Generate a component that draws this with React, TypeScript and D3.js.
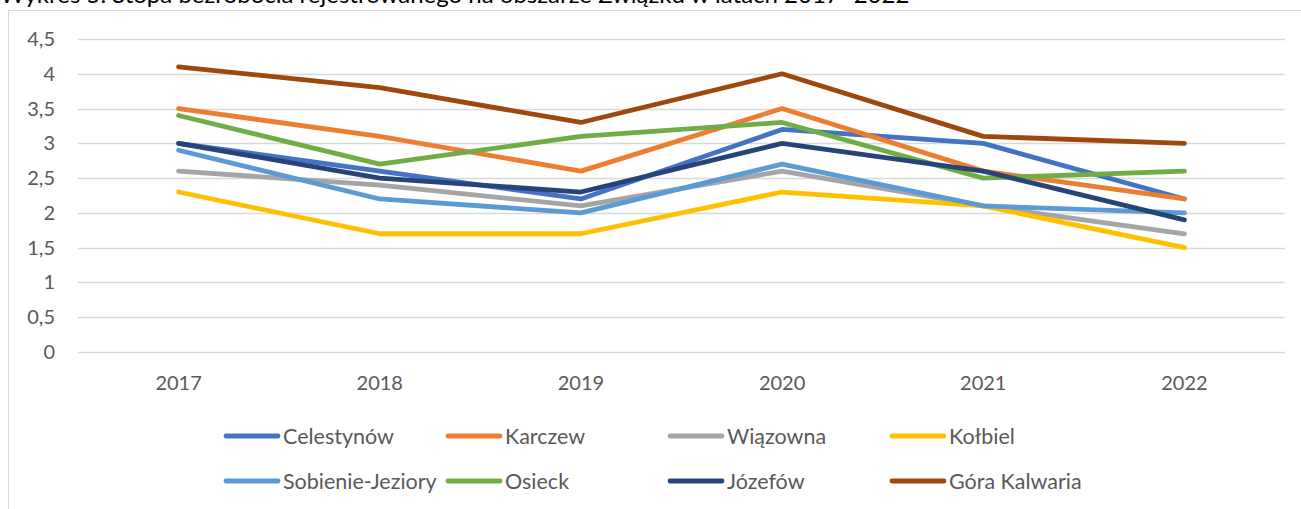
import React from "react";
import * as d3 from "d3";

// Years on the x axis
const years = ["2017", "2018", "2019", "2020", "2021", "2022"];

// Unemployment rate per gmina (%)
const celestynow = [3.0, 2.6, 2.2, 3.2, 3.0, 2.2];
const karczew = [3.5, 3.1, 2.6, 3.5, 2.6, 2.2];
const wiazowna = [2.6, 2.4, 2.1, 2.6, 2.1, 1.7];
const kolbiel = [2.3, 1.7, 1.7, 2.3, 2.1, 1.5];
const sobienie = [2.9, 2.2, 2.0, 2.7, 2.1, 2.0];
const osieck = [3.4, 2.7, 3.1, 3.3, 2.5, 2.6];
const jozefow = [3.0, 2.5, 2.3, 3.0, 2.6, 1.9];
const goraKalwaria = [4.1, 3.8, 3.3, 4.0, 3.1, 3.0];

const seriesNames = [
  "Celestynów",
  "Karczew",
  "Wiązowna",
  "Kołbiel",
  "Sobienie-Jeziory",
  "Osieck",
  "Józefów",
  "Góra Kalwaria",
];
const seriesValues = [celestynow, karczew, wiazowna, kolbiel, sobienie, osieck, jozefow, goraKalwaria];
const colors = ["#4472C4", "#ED7D31", "#A5A5A5", "#FFC000", "#5B9BD5", "#70AD47", "#264478", "#9E480E"];

const yTicks = [0, 0.5, 1, 1.5, 2, 2.5, 3, 3.5, 4, 4.5];

const title = "Wykres 5. Stopa bezrobocia rejestrowanego na obszarze Związku w latach 2017–2022";

export default function App() {
  const width = 1301;
  const height = 509;
  const font = "Lato, 'Noto Sans', sans-serif";

  // plot area
  const left = 78;
  const right = 1285;
  const top = 39;
  const bottom = 352;

  const x = d3.scaleBand<string>().domain(years).range([left, right]);
  const y = d3.scaleLinear().domain([0, 4.5]).range([bottom, top]);

  const line = d3
    .line<number>()
    .x((d, i) => (x(years[i]) ?? 0) + x.bandwidth() / 2)
    .y((d) => y(d));

  const fmt = (v: number) => String(v).replace(".", ",");

  // legend layout: 4 columns, 2 rows
  const legendX = d3.scaleLinear().domain([0, 1]).range([224, 446]);
  const legendY = d3.scaleLinear().domain([0, 1]).range([436, 481]);

  return (
    <div style={{ position: "absolute", left: 0, top: 0 }}>
      <svg width={width} height={height} style={{ display: "block", background: "#fff" }}>
        <text x={0} y={3} fontFamily={font} fontSize={24} fill="#000">
          {title}
        </text>

        {/* chart frame */}
        <path d={`M8.5,${height} V10.5 H${width}`} fill="none" stroke="#D9D9D9" strokeWidth={1} />

        {/* gridlines */}
        {yTicks.map((t) => (
          <line
            key={t}
            x1={left}
            x2={right}
            y1={Math.round(y(t)) + 0.5}
            y2={Math.round(y(t)) + 0.5}
            stroke="#D9D9D9"
            strokeWidth={1.3}
          />
        ))}

        {/* y labels */}
        {yTicks.map((t) => (
          <text
            key={"l" + t}
            x={55}
            y={y(t)}
            dy="0.35em"
            textAnchor="end"
            fontFamily={font}
            fontSize={20}
            fill="#595959"
          >
            {fmt(t)}
          </text>
        ))}

        {/* x labels */}
        {years.map((yr) => (
          <text
            key={yr}
            x={(x(yr) ?? 0) + x.bandwidth() / 2}
            y={383}
            dy="0.35em"
            textAnchor="middle"
            fontFamily={font}
            fontSize={20}
            fill="#595959"
          >
            {yr}
          </text>
        ))}

        {/* series */}
        {seriesValues.map((vals, i) => (
          <path
            key={seriesNames[i]}
            d={line(vals) ?? ""}
            fill="none"
            stroke={colors[i]}
            strokeWidth={4.8}
            strokeLinejoin="round"
            strokeLinecap="round"
          />
        ))}

        {/* legend */}
        {seriesNames.map((name, i) => {
          const lx = legendX(i % 4);
          const ly = legendY(Math.floor(i / 4));
          return (
            <g key={"lg" + name}>
              <line
                x1={lx + 2}
                x2={lx + 54}
                y1={ly}
                y2={ly}
                stroke={colors[i]}
                strokeWidth={4.8}
                strokeLinecap="round"
              />
              <text x={lx + 59} y={ly} dy="0.35em" fontFamily={font} fontSize={21.5} fill="#595959">
                {name}
              </text>
            </g>
          );
        })}
      </svg>
    </div>
  );
}
